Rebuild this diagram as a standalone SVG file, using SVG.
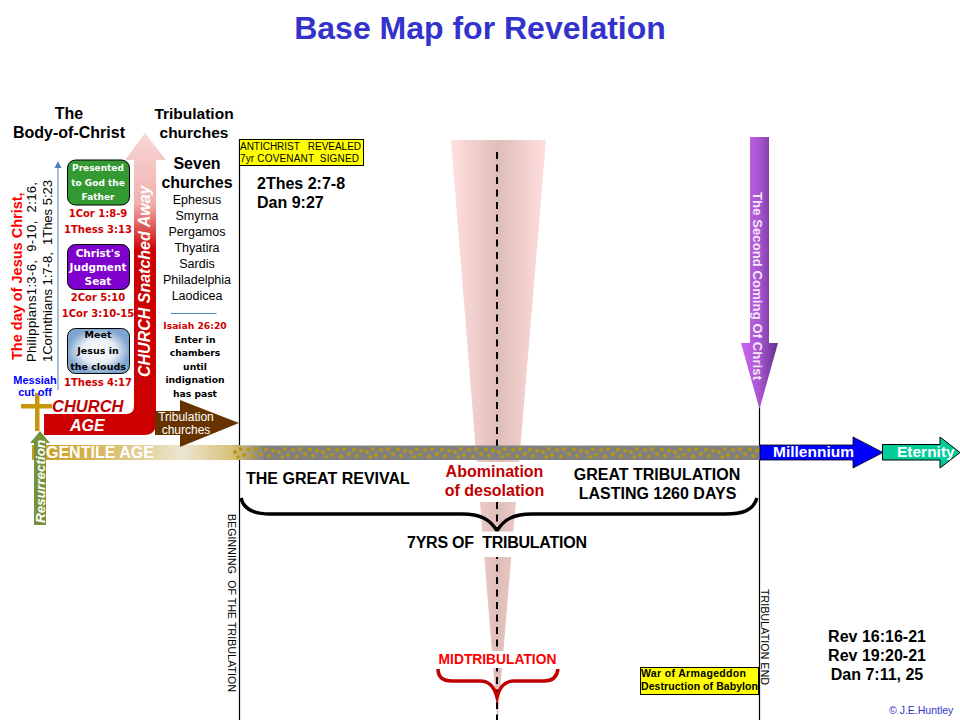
<svg xmlns="http://www.w3.org/2000/svg" width="960" height="720" viewBox="0 0 960 720">
<style>
text{font-family:"Liberation Sans",Arial,sans-serif;fill:#000}
.b{font-weight:bold}
.m{text-anchor:middle}
.i{font-style:italic}
.w{fill:#fff}
.r{fill:#c00000}
.ref{font-family:"DejaVu Sans",sans-serif;font-size:10px;font-weight:bold;fill:#d00000;text-anchor:middle}
.box{font-family:"DejaVu Sans",sans-serif;font-size:9px;font-weight:bold;text-anchor:middle}
.ch{font-size:12.5px;text-anchor:middle}
.ent{font-family:"DejaVu Sans",sans-serif;font-size:9.2px;font-weight:bold;text-anchor:middle}
.h{font-size:16px;font-weight:bold;text-anchor:middle}
.y{fill:#ff0;stroke:#000;stroke-width:1}
.ln{fill:none;stroke:#000;stroke-width:1.2}
</style>
<defs>
<linearGradient id="cone" x1="0" x2="1" y1="0" y2="0"><stop offset="0" stop-color="#ffe0e0"/><stop offset=".5" stop-color="#dfbdb8"/><stop offset="1" stop-color="#ffdede"/></linearGradient>
<linearGradient id="up" x1="0" x2="0" y1="133" y2="290" gradientUnits="userSpaceOnUse"><stop offset="0" stop-color="#f8d8d6"/><stop offset=".45" stop-color="#f0b0ae"/><stop offset=".75" stop-color="#cc0000"/><stop offset="1" stop-color="#cc0000"/></linearGradient>
<linearGradient id="gen" x1="0" x2="1" y1="0" y2="0"><stop offset="0" stop-color="#c89b1a"/><stop offset=".25" stop-color="#d4b04a"/><stop offset=".72" stop-color="#ece6d2"/><stop offset="1" stop-color="#d4bc6a"/></linearGradient>
<linearGradient id="fade" x1="0" x2="1" y1="0" y2="0"><stop offset="0" stop-color="#d8c070"/><stop offset="1" stop-color="#d8c070" stop-opacity="0"/></linearGradient>
<linearGradient id="pur" x1="0" x2="1" y1="0" y2="0"><stop offset="0" stop-color="#cc66f0"/><stop offset=".5" stop-color="#a855d0"/><stop offset="1" stop-color="#60308a"/></linearGradient>
<radialGradient id="meet"><stop offset="0" stop-color="#fff"/><stop offset=".55" stop-color="#e8eef6"/><stop offset="1" stop-color="#7fa4cf"/></radialGradient>
<pattern id="dots" width="44" height="14" patternUnits="userSpaceOnUse" x="232" y="446">
<g fill="#b8960f"><circle cx="3" cy="6" r="2"/><circle cx="8.500" cy="3" r="1.900"/><circle cx="12" cy="9" r="2"/><circle cx="17" cy="4" r="1.900"/><circle cx="21" cy="10.500" r="1.900"/><circle cx="24" cy="3" r="2"/><circle cx="29" cy="8" r="1.900"/><circle cx="34" cy="3.500" r="2"/><circle cx="37" cy="10" r="1.900"/><circle cx="41" cy="4.500" r="1.900"/><circle cx="6" cy="11" r="1.800"/></g>
</pattern>
</defs>
<rect width="960" height="720" fill="#fff"/>
<text class="b m" x="480" y="39" font-size="32" style="fill:#3333cc">Base Map for Revelation</text>

<g id="midcone">
<polygon points="451,140 546,140 497.500,722" fill="url(#cone)"/>
</g>

<g id="connectors">
<path d="M239.500 140V720" class="ln"/>
<path d="M759.500 405V720" class="ln"/>
<path d="M497 152V720" fill="none" stroke="#000" stroke-width="2" stroke-dasharray="7 5.500"/>
<path d="M58 390V167" fill="none" stroke="#4f81bd" stroke-width="1"/>
<polygon points="58,161 54.500,168 61.500,168" fill="#4f81bd"/>
<path d="M241 498C244 511 256 514 270 514H462C480 514 490 519 497 531C504 519 514 514 532 514H725C742 514 753 511 757 498" fill="none" stroke="#000" stroke-width="3.400"/>
<path d="M438 669C438 677 443 681 452 681H480C489 681 494 686 497 697C500 686 505 681 514 681H544C553 681 557 677 558 669" fill="none" stroke="#c00000" stroke-width="3.500"/>
</g>

<g id="masks">
<rect x="438" y="462" width="118" height="40" fill="#fff"/>
<rect x="400" y="531.500" width="190" height="25.500" fill="#fff"/>
<rect x="438" y="651" width="120" height="17" fill="#fff"/>
</g>

<g id="gentile">
<rect x="32" y="445" width="208" height="15" fill="url(#gen)"/>
<rect x="233" y="445.500" width="527" height="14.500" fill="#808080"/>
<rect x="233" y="445.500" width="32" height="14.500" fill="url(#fade)"/>
<rect x="233" y="445.500" width="527" height="14.500" fill="url(#dots)"/>
<text class="b" x="46" y="458" font-size="16" style="fill:#fff">GENTILE AGE</text>
</g>

<g id="church-age">
<path d="M145 133L166 160H156V423Q156 435 144 435H44V414H126Q134 414 134 406V160H125Z" fill="url(#up)"/>
<text class="b i" x="52" y="412" font-size="16.500" style="fill:#c00000">CHURCH</text>
<text class="b i w" x="70" y="431" font-size="16">AGE</text>
<text class="b i w" transform="translate(150,377) rotate(-90)" font-size="16">CHURCH Snatched Away</text>
</g>

<g id="tribulation-arrow">
<polygon points="155,411 180,411 180,400 239,423 180,447 180,435 155,435" fill="#663300"/>
<text class="m w" x="186" y="421" font-size="12">Tribulation</text>
<text class="m w" x="186" y="434" font-size="12">churches</text>
</g>

<g id="cross">
<rect x="35" y="393" width="4.500" height="38" fill="#c8960c"/>
<rect x="21" y="404" width="31" height="4.500" fill="#c8960c"/>
</g>
<g id="resurrection">
<polygon points="40,431 50,443 46,443 46,525 34,525 34,443 30,443" fill="#76923c"/>
<text class="b i w" transform="translate(45,523) rotate(-90)" font-size="13.500">Resurrection</text>
</g>

<g id="heading-body">
<text class="h" x="69" y="119">The</text>
<text class="h" x="69" y="138">Body-of-Christ</text>
</g>
<g id="heading-trib">
<text class="h" x="194" y="119" style="font-size:15.500px">Tribulation</text>
<text class="h" x="194" y="138" style="font-size:15.500px">churches</text>
</g>

<g id="day-of-christ">
<text class="b" transform="translate(22,360) rotate(-90)" font-size="14.500" style="fill:#ff0000">The day of Jesus Christ,</text>
<text transform="translate(36,362) rotate(-90)" font-size="13" textLength="180" xml:space="preserve">Philippians1:3-6,  9-10,  2:16,</text>
<text transform="translate(52,362) rotate(-90)" font-size="13" textLength="182" xml:space="preserve">1Corinthians 1:7-8,  1Thes 5:23</text>
</g>

<g id="messiah">
<text class="b m" x="35" y="384" font-size="11" style="fill:#0000ff">Messiah</text>
<text class="b m" x="35" y="396" font-size="11" style="fill:#0000ff">cut off</text>
</g>

<g id="presented">
<rect x="67.500" y="160" width="62" height="45" rx="8" fill="#339933" stroke="#000"/>
<text class="box w" x="98" y="171">Presented</text>
<text class="box w" x="98" y="186">to God the</text>
<text class="box w" x="98" y="200">Father</text>
<text class="ref" x="98" y="217">1Cor 1:8-9</text>
<text class="ref" x="98" y="233">1Thess 3:13</text>
</g>
<g id="judgment">
<rect x="67.500" y="244.500" width="62" height="45" rx="8" fill="#7f00cc" stroke="#000"/>
<text class="box w" x="98" y="257" style="font-size:10.500px">Christ's</text>
<text class="box w" x="98" y="271" style="font-size:10.500px">Judgment</text>
<text class="box w" x="98" y="285" style="font-size:10.500px">Seat</text>
<text class="ref" x="98" y="301">2Cor 5:10</text>
<text class="ref" x="98" y="317">1Cor 3:10-15</text>
</g>
<g id="meet">
<rect x="67.500" y="328.500" width="62" height="45" rx="8" fill="url(#meet)" stroke="#000"/>
<text class="box" x="98" y="338" style="font-size:9.500px">Meet</text>
<text class="box" x="98" y="354" style="font-size:9.500px">Jesus in</text>
<text class="box" x="98" y="370" style="font-size:9.500px">the clouds</text>
<text class="ref" x="98" y="386">1Thess 4:17</text>
</g>

<g id="seven-churches">
<text class="h" x="197" y="169">Seven</text>
<text class="h" x="197" y="188">churches</text>
<text class="ch" x="197" y="204">Ephesus</text>
<text class="ch" x="197" y="220">Smyrna</text>
<text class="ch" x="197" y="236">Pergamos</text>
<text class="ch" x="197" y="252">Thyatira</text>
<text class="ch" x="197" y="268">Sardis</text>
<text class="ch" x="197" y="284">Philadelphia</text>
<text class="ch" x="197" y="300">Laodicea</text>
<path d="M171 313.500H216.500" stroke="#4f81bd" fill="none"/>
<text class="ref" x="195" y="329" style="font-size:9.200px">Isaiah 26:20</text>
<text class="ent" x="195" y="343">Enter in</text>
<text class="ent" x="195" y="356">chambers</text>
<text class="ent" x="195" y="370">until</text>
<text class="ent" x="195" y="383">indignation</text>
<text class="ent" x="195" y="397">has past</text>
</g>

<g id="antichrist">
<rect class="y" x="239.500" y="139.500" width="124" height="26"/>
<text x="240" y="149.500" font-size="10" textLength="121" xml:space="preserve">ANTICHRIST   REVEALED</text>
<text x="240" y="162" font-size="10" textLength="119" xml:space="preserve">7yr COVENANT  SIGNED</text>
<text class="b" x="257" y="189" font-size="16">2Thes 2:7-8</text>
<text class="b" x="257" y="208" font-size="16">Dan 9:27</text>
</g>

<g id="second-coming">
<polygon points="750,137 769,137 769,343 778,343 759.500,409 741,343 750,343" fill="url(#pur)"/>
<text transform="translate(753,192) rotate(90)" font-size="13" font-weight="bold" textLength="188" style="fill:#f4e8fa">The Second Coming Of Christ</text>
</g>

<g id="millennium">
<polygon points="760,445 853,445 853,437 883,452.500 853,468 853,460 760,460" fill="#0000ff" stroke="#000" stroke-width=".8"/>
<text class="b w" x="773" y="457" font-size="15.500">Millennium</text>
</g>
<g id="eternity">
<polygon points="882.500,444.500 940,444.500 940,437 960,452.500 940,468 940,460 882.500,460" fill="#00cc99" stroke="#000"/>
<text class="b w" x="897" y="457" font-size="15.500">Eternity</text>
</g>

<g id="labels">
<text class="b" x="246" y="484" font-size="16">THE GREAT REVIVAL</text>
<text class="b m r" x="494.500" y="477" font-size="16">Abomination</text>
<text class="b m r" x="494.500" y="496" font-size="16">of desolation</text>
<text class="b m" x="657" y="480" font-size="16">GREAT TRIBULATION</text>
<text class="b m" x="657.500" y="499" font-size="16">LASTING 1260 DAYS</text>
<text class="b" x="407" y="548" font-size="16" textLength="180" xml:space="preserve">7YRS OF  TRIBULATION</text>
<text class="b m" x="497.500" y="664" font-size="13.800" style="fill:#ff0000">MIDTRIBULATION</text>
<text transform="translate(227.500,514) rotate(90)" font-size="10.500" textLength="178" xml:space="preserve">BEGINNING  OF THE TRIBULATION</text>
<text transform="translate(761,589) rotate(90)" font-size="10.500" textLength="96" xml:space="preserve">TRIBULATION END</text>
</g>

<g id="armageddon">
<rect class="y" x="640.500" y="667.500" width="118" height="27"/>
<text x="641" y="677" font-size="10.500" font-weight="bold" textLength="105">War of Armageddon</text>
<text x="641" y="690" font-size="10.500" font-weight="bold" textLength="117">Destruction of Babylon</text>
</g>

<g id="refs">
<text class="b m" x="877" y="642" font-size="16">Rev 16:16-21</text>
<text class="b m" x="877" y="661" font-size="16">Rev 19:20-21</text>
<text class="b m" x="877" y="680" font-size="16">Dan 7:11, 25</text>
<text x="889" y="714" font-size="10.500" style="fill:#3333cc">© J.E.Huntley</text>
</g>
</svg>
